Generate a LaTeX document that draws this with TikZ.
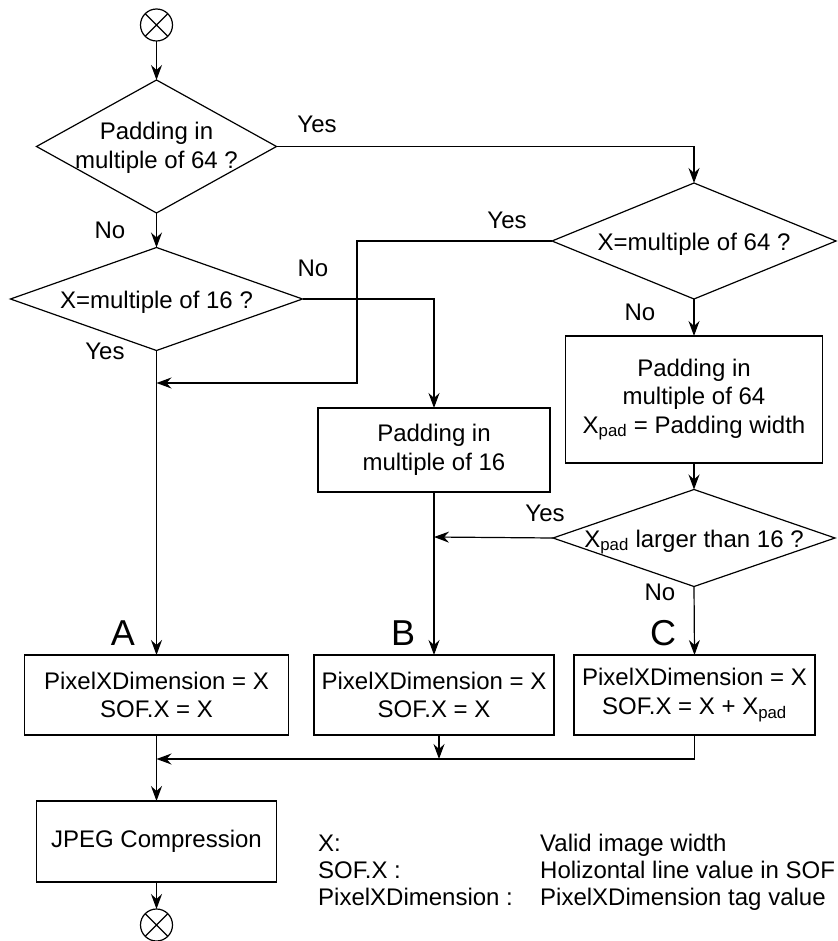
\documentclass[tikz,border=0pt]{standalone}
\usepackage{fontspec}
\setmainfont{Liberation Sans}
\usetikzlibrary{shapes.geometric,arrows.meta}
\begin{document}
\begin{tikzpicture}[x=1pt,y=-1pt,
  every node/.style={font=\fontsize{24}{28.5}\selectfont},
  conn/.style={line width=1.2pt},
  arr/.style={conn,-{Stealth[length=15pt,width=11pt,inset=5pt]}},
  dia/.style={diamond,draw,line width=1.2pt,inner sep=0pt,outer sep=0pt},
  boxnode/.style={draw,line width=1.2pt,inner sep=0pt,outer sep=0pt,align=center},
  xcirc/.style={circle,draw,line width=1.2pt,minimum size=32pt,inner sep=0pt,outer sep=0pt,
    path picture={\draw[line width=1.2pt] (path picture bounding box.north west) -- (path picture bounding box.south east)
      (path picture bounding box.north east) -- (path picture bounding box.south west);}},
  lbl/.style={inner sep=0pt},
  big/.style={inner sep=0pt,font=\fontsize{36}{40}\selectfont}
]
\useasboundingbox (0,0) rectangle (837,941);

% nodes
\node[xcirc] (start) at (156.5,25) {};
\node[dia,minimum width=240pt,minimum height=133pt] (d1) at (156.5,146.5) {};
\node[lbl,align=center] (t1) at (156.5,148) {Padding in\\multiple of 64 ?};
\node[dia,minimum width=292pt,minimum height=103pt] (d3) at (156.5,299) {};
\node[lbl] (t3) at (156.5,302) {X=multiple of 16 ?};
\node[dia,minimum width=284pt,minimum height=116pt] (d2) at (694,241) {};
\node[lbl] (t2) at (694,244) {X=multiple of 64 ?};
\node[boxnode,minimum width=257pt,minimum height=127pt] (b64) at (694,399.5)
  {Padding in\\multiple of 64\\X\textsubscript{pad} = Padding width};
\node[dia,minimum width=282pt,minimum height=97pt] (d4) at (694,538) {};
\node[lbl] (t4) at (694,542) {X\textsubscript{pad} larger than 16 ?};
\node[boxnode,minimum width=232pt,minimum height=84pt] (b16) at (434,450)
  {Padding in\\multiple of 16};
\node[boxnode,minimum width=264pt,minimum height=80pt] (bA) at (156.5,695)
  {PixelXDimension = X\\SOF.X = X};
\node[boxnode,minimum width=240pt,minimum height=80pt] (bB) at (434,695)
  {PixelXDimension = X\\SOF.X = X};
\node[boxnode,minimum width=241pt,minimum height=80pt] (bC) at (694.5,695)
  {PixelXDimension = X\\SOF.X = X + X\textsubscript{pad}};
\node[boxnode,minimum width=240pt,minimum height=81pt] (jpeg) at (156.5,841.5)
  {JPEG Compression};
\node[xcirc] (stop) at (156.5,925) {};

% labels
\node[lbl] (y1) at (317,124) {Yes};
\node[lbl] (n1) at (110,230) {No};
\node[lbl] (y2) at (507,220) {Yes};
\node[lbl] (n3) at (313,268) {No};
\node[lbl] (y3) at (105,351) {Yes};
\node[lbl] (n2) at (640,312) {No};
\node[lbl] (y4) at (545,513) {Yes};
\node[lbl] (n4) at (660,592) {No};
\node[big] (la) at (123,633) {A};
\node[big] (lb) at (403,633) {B};
\node[big] (lc) at (663,633) {C};

% legend
\node[lbl,anchor=base west] (k1) at (318,851.5) {X:};
\node[lbl,anchor=base west] (k2) at (318,878.5) {SOF.X :};
\node[lbl,anchor=base west] (k3) at (318,905.5) {PixelXDimension :};
\node[lbl,anchor=base west] (v1) at (540,851.5) {Valid image width};
\node[lbl,anchor=base west] (v2) at (540,878.5) {Holizontal line value in SOF};
\node[lbl,anchor=base west] (v3) at (540,905.5) {PixelXDimension tag value};

% connector helper points
\coordinate (j1) at (156.5,383);
\coordinate (m1) at (434,537);
\coordinate (m2) at (156.5,759);
\coordinate (m3) at (439,759);

% connectors
\draw[arr] (start) -- (d1.north);
\draw[arr] (d1.east) -| (d2.north);
\draw[arr] (d1.south) -- (d3.north);
\draw[arr] (d2.west) -- (357,241) |- (j1);
\draw[arr] (d3.south) -- (bA.north);
\draw[arr] (d3.east) -| (b16.north);
\draw[arr] (d2.south) -- (b64.north);
\draw[arr] (b64.south) -- (d4.north);
\draw[arr] (d4.west) -- (m1);
\draw[arr] (b16.south) -- (bB.north);
\draw[arr] (d4.south) -- (bC.north);
\draw[arr] (bA.south) -- (jpeg.north);
\draw[arr] (bC.south) |- (m2);
\draw[arr] (bB.south -| m3) -- (m3);
\draw[arr] (jpeg.south) -- (stop);
\end{tikzpicture}
\end{document}
